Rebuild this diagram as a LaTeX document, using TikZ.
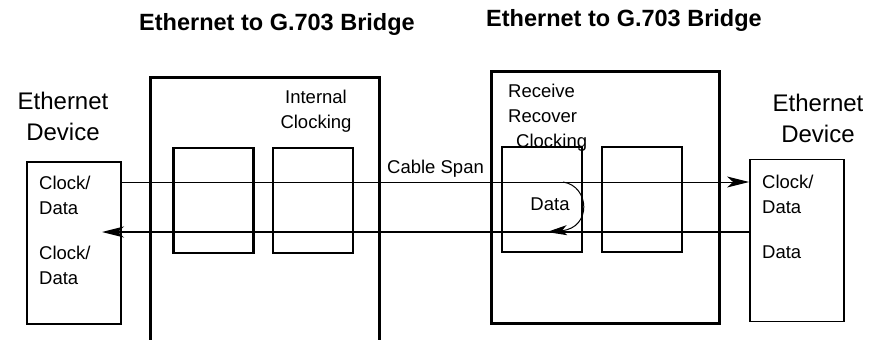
\documentclass[tikz,border=0pt]{standalone}
\usepackage{fontspec}
\setmainfont{Liberation Sans}
\usetikzlibrary{arrows.meta}

\begin{document}
\begin{tikzpicture}[x=1pt, y=-1pt,
    blk/.style={draw, line width=2.8pt, minimum width=80pt, minimum height=105pt, inner sep=0pt},
    dev/.style={draw, line width=1.8pt, minimum width=94pt, minimum height=162pt, inner sep=0pt},
    frame/.style={line width=3pt},
    lbl/.style={inner sep=0pt, align=left, anchor=west, font=\fontsize{18.5}{25}\selectfont},
    devlbl/.style={inner sep=0pt, align=center, font=\fontsize{24}{31}\selectfont},
    ttl/.style={inner sep=0pt, font=\bfseries\fontsize{23.5}{26}\selectfont},
    sig/.style={line width=1pt, -{Stealth[length=22pt, width=11pt, inset=6pt]}}]
  \useasboundingbox (0,0) rectangle (876,340);

  % Titles
  \node[ttl] (ttlL) at (277,24) {Ethernet to G.703 Bridge};
  \node[ttl] (ttlR) at (624,20) {Ethernet to G.703 Bridge};

  % Bridge frames (left one runs off the bottom)
  \draw[frame] (150,341) -- (150,77) -- (379,77) -- (379,341);
  \draw[frame] (491,71) rectangle (719,323);

  % Blocks inside the bridges
  \node[blk] (txA) at (213.5,200.5) {};
  \node[blk] (txB) at (313,200.5) {};
  \node[blk] (rxA) at (542,199.5) {};
  \node[blk] (rxB) at (642,199.5) {};

  % Ethernet devices
  \node[dev] (devL) at (74,243) {};
  \node[dev] (devR) at (797,240.5) {};
  \node[devlbl] (nameL) at (63,116.5) {Ethernet\\Device};
  \node[devlbl] (nameR) at (818,118) {Ethernet\\Device};
  \node[lbl] (portL1) at (39,195.5) {Clock/\\Data};
  \node[lbl] (portL2) at (39,265) {Clock/\\Data};
  \node[lbl] (portR1) at (762,194) {Clock/\\Data};
  \node[lbl] (portR2) at (762,252) {Data};

  % Block labels
  \node[lbl, anchor=center, align=center] (intclk) at (316,111) {Internal\\Clocking};
  \node[lbl] (rcvclk) at (508,118) {Receive\\Recover\\\hspace*{8pt}Clocking};
  \node[lbl] (span) at (387,169) {Cable Span};
  \node[lbl, anchor=center] (loop) at (550,204) {Data};

  % Signal paths
  \coordinate (lineA) at (0,182);
  \coordinate (lineB) at (0,232);
  \coordinate (tipL) at (102,232);
  \draw[sig] (devL.east |- lineA) -- (devR.west |- lineA);
  \draw[sig, line width=1.5pt] (devR.west |- lineB) -- (tipL);
  \draw[sig, -{Stealth[length=20pt, width=10pt, inset=5pt]}] (563,182) .. controls (590,186) and (592,228) .. (547,232);
\end{tikzpicture}
\end{document}
